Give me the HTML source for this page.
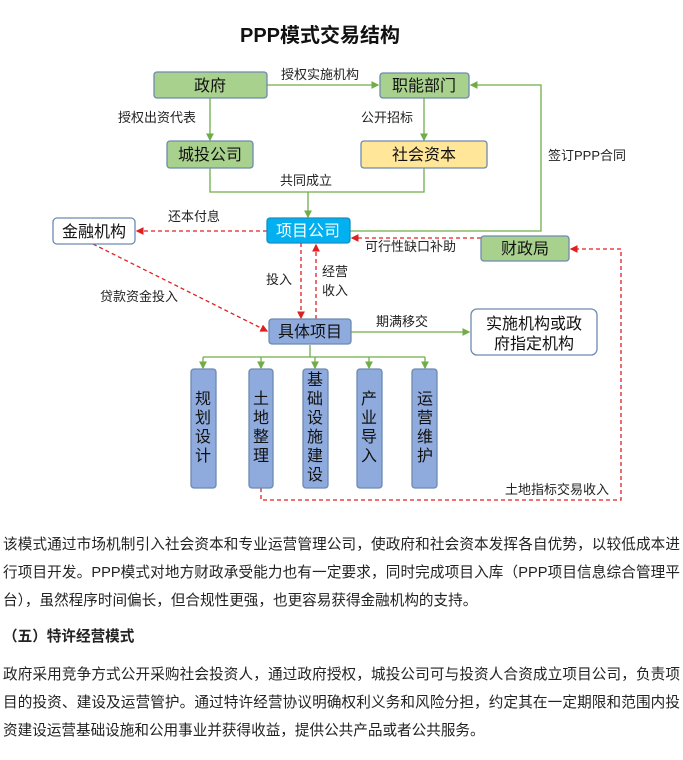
<!DOCTYPE html>
<html><head><meta charset="utf-8"><style>
body{margin:0;width:683px;height:760px;background:#fff;overflow:hidden;position:relative;font-family:"Liberation Sans","Noto Sans CJK SC",sans-serif;}
.l{position:absolute;left:3px;font-size:14.6px;color:#222;white-space:nowrap;line-height:20px;}
.f{width:677px;text-align:justify;text-align-last:justify;}
</style></head><body>
<svg width="683" height="515" style="position:absolute;left:0;top:0" font-family="Liberation Sans, Noto Sans CJK SC, sans-serif">
<defs>
<marker id="g" markerWidth="6" markerHeight="6" refX="5" refY="3" orient="auto"><path d="M0,0L6,3L0,6z" fill="#70ad47"/></marker>
<marker id="r" markerWidth="6" markerHeight="6" refX="5" refY="3" orient="auto"><path d="M0,0L6,3L0,6z" fill="#e02020"/></marker>
</defs>
<text x="320" y="42" font-size="20" font-weight="bold" text-anchor="middle" fill="#111">PPP模式交易结构</text>
<g stroke="#70ad47" stroke-width="1.3" fill="none">
<line x1="267" y1="85" x2="378" y2="85" marker-end="url(#g)"/>
<line x1="210" y1="98" x2="210" y2="140" marker-end="url(#g)"/>
<line x1="424" y1="98" x2="424" y2="140" marker-end="url(#g)"/>
<polyline points="210,168 210,192 424,192 424,168"/>
<line x1="308" y1="192" x2="308" y2="217" marker-end="url(#g)"/>
<polyline points="350,231 541,231 541,85 471,85" marker-end="url(#g)"/>
<line x1="351" y1="332" x2="469" y2="332" marker-end="url(#g)"/>
<polyline points="310,345 310,357"/>
<polyline points="203,357 425,357"/>
<line x1="203" y1="357" x2="203" y2="368" marker-end="url(#g)"/>
<line x1="261" y1="357" x2="261" y2="368" marker-end="url(#g)"/>
<line x1="315" y1="357" x2="315" y2="368" marker-end="url(#g)"/>
<line x1="369" y1="357" x2="369" y2="368" marker-end="url(#g)"/>
<line x1="425" y1="357" x2="425" y2="368" marker-end="url(#g)"/>
</g>
<g stroke="#e02020" stroke-width="1.3" fill="none" stroke-dasharray="4,3">
<line x1="267" y1="231" x2="137" y2="231" marker-end="url(#r)"/>
<line x1="481" y1="238" x2="352" y2="238" marker-end="url(#r)"/>
<line x1="301" y1="243" x2="301" y2="318" marker-end="url(#r)"/>
<line x1="316" y1="319" x2="316" y2="245" marker-end="url(#r)"/>
<line x1="93" y1="244" x2="267" y2="331" marker-end="url(#r)"/>
<polyline points="261,488 261,500 621,500 621,249 571,249" marker-end="url(#r)"/>
</g>
<g stroke="#6d8ab0" stroke-width="1.3">
<rect x="154" y="72" width="113" height="26" rx="3" fill="#a9d18e"/>
<rect x="380" y="73" width="89" height="25" rx="3" fill="#a9d18e"/>
<rect x="167" y="141" width="86" height="27" rx="3" fill="#a9d18e"/>
<rect x="361" y="141" width="126" height="27" rx="3" fill="#ffe699"/>
<rect x="267" y="218" width="83" height="25" rx="3" fill="#00b0f0" stroke="#1a8fc0"/>
<rect x="53" y="218" width="82" height="26" rx="4" fill="#fff"/>
<rect x="481" y="236" width="88" height="25" rx="3" fill="#a9d18e"/>
<rect x="269" y="319" width="82" height="25" rx="3" fill="#8faadc"/>
<rect x="471" y="309" width="126" height="46" rx="6" fill="#fff"/>
<rect x="191" y="369" width="25" height="119" rx="3" fill="#8faadc"/>
<rect x="249" y="369" width="24" height="119" rx="3" fill="#8faadc"/>
<rect x="303" y="369" width="25" height="119" rx="3" fill="#8faadc"/>
<rect x="357" y="369" width="25" height="119" rx="3" fill="#8faadc"/>
<rect x="412" y="369" width="25" height="119" rx="3" fill="#8faadc"/>
</g>
<g font-size="16" text-anchor="middle" fill="#111">
<text x="210" y="91">政府</text>
<text x="424" y="91">职能部门</text>
<text x="210" y="160">城投公司</text>
<text x="424" y="160">社会资本</text>
<text x="308" y="236" fill="#fff">项目公司</text>
<text x="94" y="237">金融机构</text>
<text x="525" y="254">财政局</text>
<text x="310" y="337">具体项目</text>
<text x="534" y="329">实施机构或政</text>
<text x="534" y="349">府指定机构</text>
</g>
<g font-size="16" text-anchor="middle" fill="#111">
<text x="203" y="404">规</text><text x="203" y="423">划</text><text x="203" y="442">设</text><text x="203" y="461">计</text>
<text x="261" y="404">土</text><text x="261" y="423">地</text><text x="261" y="442">整</text><text x="261" y="461">理</text>
<text x="315" y="385">基</text><text x="315" y="404">础</text><text x="315" y="423">设</text><text x="315" y="442">施</text><text x="315" y="461">建</text><text x="315" y="480">设</text>
<text x="369" y="404">产</text><text x="369" y="423">业</text><text x="369" y="442">导</text><text x="369" y="461">入</text>
<text x="425" y="404">运</text><text x="425" y="423">营</text><text x="425" y="442">维</text><text x="425" y="461">护</text>
</g>
<g font-size="13" fill="#222">
<text x="281" y="79">授权实施机构</text>
<text x="118" y="122">授权出资代表</text>
<text x="361" y="122">公开招标</text>
<text x="548" y="160">签订PPP合同</text>
<text x="280" y="185">共同成立</text>
<text x="168" y="221">还本付息</text>
<text x="365" y="251">可行性缺口补助</text>
<text x="266" y="284">投入</text>
<text x="322" y="276">经营</text>
<text x="322" y="295">收入</text>
<text x="100" y="301">贷款资金投入</text>
<text x="376" y="326">期满移交</text>
<text x="505" y="494">土地指标交易收入</text>
</g>
</svg>
<div class="l f" style="top:535px">该模式通过市场机制引入社会资本和专业运营管理公司，使政府和社会资本发挥各自优势，以较低成本进</div>
<div class="l f" style="top:563px">行项目开发。PPP模式对地方财政承受能力也有一定要求，同时完成项目入库（PPP项目信息综合管理平</div>
<div class="l" style="top:591px">台），虽然程序时间偏长，但合规性更强，也更容易获得金融机构的支持。</div>
<div class="l" style="top:627px;font-weight:bold">（五）特许经营模式</div>
<div class="l f" style="top:665px">政府采用竞争方式公开采购社会投资人，通过政府授权，城投公司可与投资人合资成立项目公司，负责项</div>
<div class="l f" style="top:693px">目的投资、建设及运营管护。通过特许经营协议明确权利义务和风险分担，约定其在一定期限和范围内投</div>
<div class="l" style="top:721px">资建设运营基础设施和公用事业并获得收益，提供公共产品或者公共服务。</div>
</body></html>
